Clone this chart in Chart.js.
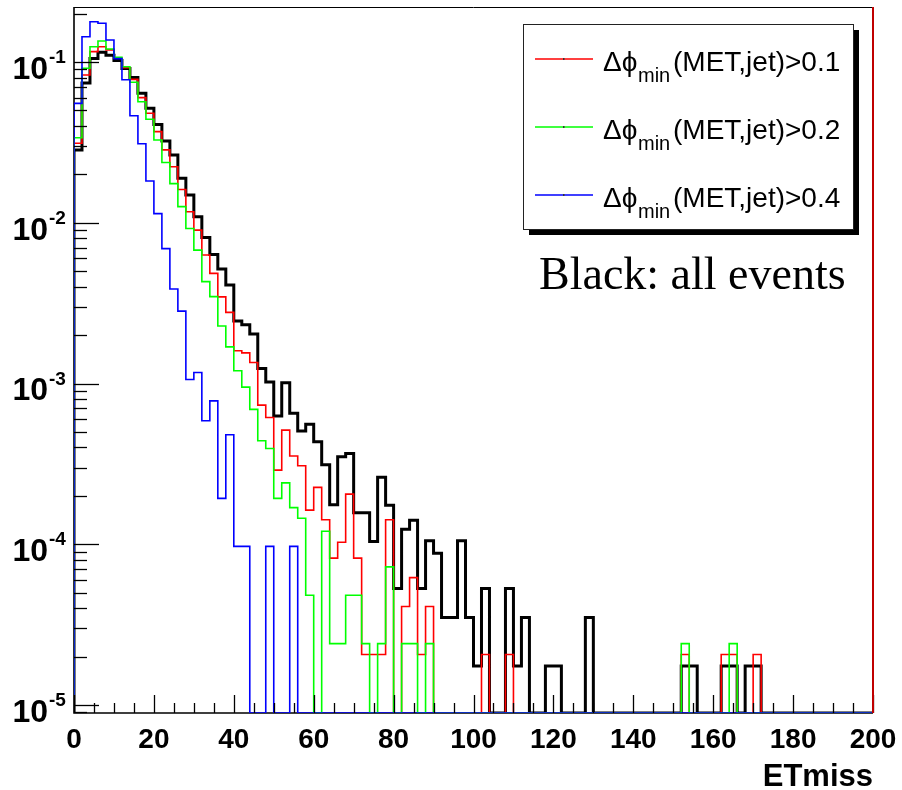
<!DOCTYPE html>
<html>
<head>
<meta charset="utf-8">
<title>ETmiss</title>
<script src="https://cdn.jsdelivr.net/npm/chart.js@4.4.0/dist/chart.umd.min.js"></script>
<style>
  html, body { margin: 0; padding: 0; background: #ffffff; }
  canvas { display: block; }
</style>
</head>
<body>
<canvas id="etmiss" width="902" height="790"></canvas>
<script>
// Histogram binning of ETmiss (GeV): 100 bins of width 2 from 0 to 200
const BIN_WIDTH = 2;
const X_MIN = 0;
const X_MAX = 200;

// Normalised bin contents, one entry per bin (0 = empty bin)
const allEvents = [
  0.0283, 0.074, 0.105, 0.115, 0.110, 0.102, 0.091, 0.080, 0.0638, 0.0515,
  0.0408, 0.0322, 0.0264, 0.0189, 0.0149, 0.0109, 0.0081, 0.00635, 0.00515, 0.0041,
  0.00245, 0.00232, 0.00203, 0.00124, 0.00102, 0.000627, 0.00101, 0.000652, 0.000507, 0.000557,
  0.000434, 0.000312, 0.000176, 0.00035, 0.000367, 0.000157, 0.000157, 0.000104, 0.000261, 0.000175,
  5.3e-5, 1.24e-4, 1.41e-4, 5.3e-5, 1.05e-4, 8.8e-5, 3.5e-5, 3.5e-5, 1.05e-4, 3.5e-5,
  1.75e-5, 5.3e-5, 0, 0, 5.3e-5, 1.75e-5, 3.5e-5, 0, 0, 1.75e-5,
  1.75e-5, 0, 0, 0, 3.5e-5, 0, 0, 0, 0, 0,
  0, 0, 0, 0, 0, 0, 1.75e-5, 1.75e-5, 0, 0,
  0, 1.75e-5, 1.75e-5, 0, 1.75e-5, 1.75e-5, 0, 0, 0, 0,
  0, 0, 0, 0, 0, 0, 0, 0, 0, 0
];

const dphiMin01 = [
  0.0312, 0.083, 0.116, 0.1245, 0.119, 0.1054, 0.092, 0.078, 0.060, 0.048,
  0.0369, 0.0284, 0.0223, 0.0161, 0.0117, 0.0090, 0.0063, 0.00484, 0.00346, 0.00277,
  0.0016, 0.00155, 0.00135, 7.34e-4, 6.15e-4, 2.89e-4, 5.13e-4, 3.54e-4, 3.08e-4, 1.63e-4,
  2.26e-4, 1.42e-4, 8.2e-5, 1.03e-4, 2.05e-4, 8.2e-5, 2.06e-5, 2.06e-5, 2.06e-5, 1.42e-4,
  0, 4.1e-5, 6.2e-5, 2.06e-5, 4.1e-5, 0, 0, 0, 0, 0,
  0, 2.06e-5, 0, 0, 2.06e-5, 0, 0, 0, 0, 0,
  0, 0, 0, 0, 0, 0, 0, 0, 0, 0,
  0, 0, 0, 0, 0, 0, 2.06e-5, 0, 0, 0,
  0, 2.06e-5, 2.06e-5, 0, 0, 2.06e-5, 0, 0, 0, 0,
  0, 0, 0, 0, 0, 0, 0, 0, 0, 0
];

const dphiMin02 = [
  0.0338, 0.0914, 0.1245, 0.135, 0.1205, 0.107, 0.0935, 0.0748, 0.0566, 0.044,
  0.0327, 0.0237, 0.0175, 0.0126, 0.0092, 0.00676, 0.0043, 0.00347, 0.00228, 0.00169,
  0.0012, 9.5e-4, 6.9e-4, 4.4e-4, 3.94e-4, 1.93e-4, 2.41e-4, 1.69e-4, 1.45e-4, 4.82e-5,
  0, 1.205e-4, 2.41e-5, 2.41e-5, 4.82e-5, 4.82e-5, 2.41e-5, 0, 2.41e-5, 7.23e-5,
  0, 2.41e-5, 2.41e-5, 0, 2.41e-5, 0, 0, 0, 0, 0,
  0, 0, 0, 0, 0, 0, 0, 0, 0, 0,
  0, 0, 0, 0, 0, 0, 0, 0, 0, 0,
  0, 0, 0, 0, 0, 0, 2.41e-5, 0, 0, 0,
  0, 0, 2.41e-5, 0, 0, 0, 0, 0, 0, 0,
  0, 0, 0, 0, 0, 0, 0, 0, 0, 0
];

const dphiMin04 = [
  0.0553, 0.1435, 0.178, 0.174, 0.137, 0.105, 0.0775, 0.0463, 0.031, 0.0182,
  0.0114, 0.0069, 0.00387, 0.00282, 0.00106, 0.00117, 5.86e-4, 7.8e-4, 1.93e-4, 4.8e-4,
  9.7e-5, 9.7e-5, 0, 0, 9.7e-5, 0, 0, 9.7e-5, 0, 0,
  0, 0, 0, 0, 0, 0, 0, 0, 0, 0,
  0, 0, 0, 0, 0, 0, 0, 0, 0, 0,
  0, 0, 0, 0, 0, 0, 0, 0, 0, 0,
  0, 0, 0, 0, 0, 0, 0, 0, 0, 0,
  0, 0, 0, 0, 0, 0, 0, 0, 0, 0,
  0, 0, 0, 0, 0, 0, 0, 0, 0, 0,
  0, 0, 0, 0, 0, 0, 0, 0, 0, 0
];

// Axis ticks and labels
const xTickLabels = ['0', '20', '40', '60', '80', '100', '120', '140', '160', '180', '200'];
const X_MAJOR_STEP = 20;
const X_MINOR_STEP = 5;
const yDecadeExponents = ['-1', '-2', '-3', '-4', '-5'];
const Y_MIN = 8.92e-6;
const Y_MAX = 0.2198;

// Legend entries: cut value on the minimum azimuthal separation
const legendCuts = ['0.1', '0.2', '0.4'];
const legendColors = ['#ff0000', '#00ff00', '#0000ff'];

const SANS = "'Liberation Sans', Arial, Helvetica, sans-serif";
const SERIF = "'Liberation Serif', 'Times New Roman', serif";

// Empty bins sit on the bottom of the frame, as on a ROOT log plot
function histPoints(values) {
  const pts = [{ x: X_MIN, y: Y_MIN }];
  values.forEach((v, i) => pts.push({ x: X_MIN + i * BIN_WIDTH, y: v > 0 ? v : Y_MIN }));
  pts.push({ x: X_MAX, y: Y_MIN });
  return pts;
}

function histDataset(label, values, color, width, order) {
  return {
    label,
    data: histPoints(values),
    borderColor: color,
    borderWidth: width,
    stepped: 'before',
    pointRadius: 0,
    pointHoverRadius: 0,
    fill: false,
    tension: 0,
    order
  };
}

const rootDecor = {
  id: 'rootDecor',
  beforeDatasetsDraw(chart) {
    const { ctx, chartArea: a } = chart;
    ctx.save();
    ctx.strokeStyle = '#000';
    ctx.lineWidth = 1;
    ctx.beginPath();
    ctx.moveTo(a.left, a.top + 0.5);
    ctx.lineTo(a.right, a.top + 0.5);
    ctx.stroke();
    ctx.lineWidth = 1.6;
    ctx.beginPath();
    ctx.moveTo(a.left, a.top);
    ctx.lineTo(a.left, a.bottom);
    ctx.lineTo(a.right, a.bottom);
    ctx.stroke();
    ctx.restore();
  },
  afterDatasetsDraw(chart) {
    const { ctx, chartArea: a } = chart;
    const xs = chart.scales.x;
    const ys = chart.scales.y;
    ctx.save();

    // x-axis tick marks, drawn inward
    ctx.strokeStyle = '#000';
    ctx.lineWidth = 1.3;
    for (let v = X_MIN; v <= X_MAX; v += X_MINOR_STEP) {
      const px = Math.round(xs.getPixelForValue(v)) + 0.5;
      const len = v % X_MAJOR_STEP === 0 ? 18 : 10;
      ctx.beginPath();
      ctx.moveTo(px, a.bottom);
      ctx.lineTo(px, a.bottom - len);
      ctx.stroke();
    }

    // y-axis log tick marks, drawn inward
    for (let e = -6; e <= 0; e++) {
      for (let m = 1; m <= 9; m++) {
        const v = m * Math.pow(10, e);
        if (v < Y_MIN || v > Y_MAX) continue;
        const py = Math.round(ys.getPixelForValue(v)) + 0.5;
        const len = m === 1 ? 25 : 13;
        ctx.beginPath();
        ctx.moveTo(a.left, py);
        ctx.lineTo(a.left + len, py);
        ctx.stroke();
      }
    }

    // x tick labels
    ctx.fillStyle = '#000';
    ctx.font = 'bold 28px ' + SANS;
    ctx.textAlign = 'center';
    ctx.textBaseline = 'alphabetic';
    xTickLabels.forEach(lbl => {
      ctx.fillText(lbl, xs.getPixelForValue(Number(lbl)), 748);
    });

    // y tick labels: 10 with a raised exponent
    yDecadeExponents.forEach(ex => {
      const py = ys.getPixelForValue(Math.pow(10, Number(ex)));
      ctx.textAlign = 'right';
      ctx.textBaseline = 'middle';
      ctx.font = 'bold 32px ' + SANS;
      ctx.fillText('10', 48, py + 8);
      ctx.textAlign = 'left';
      ctx.font = 'bold 19px ' + SANS;
      ctx.fillText(ex, 49, py - 4);
    });

    // axis title
    ctx.textAlign = 'right';
    ctx.textBaseline = 'alphabetic';
    ctx.font = 'bold 31px ' + SANS;
    ctx.fillText('ETmiss', a.right, 786);

    // right frame edge
    ctx.strokeStyle = '#c00000';
    ctx.lineWidth = 2;
    ctx.beginPath();
    ctx.moveTo(a.right, a.top);
    ctx.lineTo(a.right, a.bottom);
    ctx.stroke();

    // legend box with shadow
    const bx = 523, by = 24, bw = 330, bh = 205, sh = 6;
    ctx.fillStyle = '#000';
    ctx.fillRect(bx + sh, by + sh, bw, bh);
    ctx.fillStyle = '#fff';
    ctx.fillRect(bx, by, bw, bh);
    ctx.strokeStyle = '#222';
    ctx.lineWidth = 1;
    ctx.strokeRect(bx + 0.5, by + 0.5, bw, bh);

    const rowY = [59, 127, 195];
    legendCuts.forEach((cut, i) => {
      const ly = rowY[i];
      ctx.strokeStyle = legendColors[i];
      ctx.lineWidth = 1.6;
      ctx.beginPath();
      ctx.moveTo(535, ly);
      ctx.lineTo(593, ly);
      ctx.stroke();
      ctx.fillStyle = '#333';
      ctx.fillRect(563, ly - 1, 1.5, 2);

      ctx.fillStyle = '#000';
      ctx.textAlign = 'left';
      ctx.textBaseline = 'alphabetic';
      ctx.font = '28px ' + SANS;
      ctx.fillText('\u0394\u03d5', 603, ly + 12);
      ctx.font = '20px ' + SANS;
      ctx.fillText('min', 638, ly + 23);
      ctx.font = '28px ' + SANS;
      ctx.fillText('(MET,jet)>' + cut, 673, ly + 12);
    });

    // annotation
    ctx.font = '46px ' + SERIF;
    ctx.textAlign = 'left';
    ctx.fillStyle = '#000';
    ctx.fillText('Black: all events', 539, 289);

    ctx.restore();
  }
};

new Chart(document.getElementById('etmiss'), {
  type: 'line',
  data: {
    datasets: [
      histDataset('\u0394\u03d5min(MET,jet)>0.4', dphiMin04, '#0000ff', 1.6, 0),
      histDataset('\u0394\u03d5min(MET,jet)>0.2', dphiMin02, '#00ff00', 1.6, 1),
      histDataset('\u0394\u03d5min(MET,jet)>0.1', dphiMin01, '#ff0000', 1.6, 2),
      histDataset('All events', allEvents, '#000000', 3, 3)
    ]
  },
  options: {
    responsive: false,
    animation: false,
    events: [],
    layout: { padding: { left: 74, right: 29, top: 7, bottom: 77 } },
    scales: {
      x: { type: 'linear', min: X_MIN, max: X_MAX, display: false },
      y: { type: 'logarithmic', min: Y_MIN, max: Y_MAX, display: false }
    },
    plugins: {
      legend: { display: false },
      tooltip: { enabled: false }
    }
  },
  plugins: [rootDecor]
});
</script>
</body>
</html>
